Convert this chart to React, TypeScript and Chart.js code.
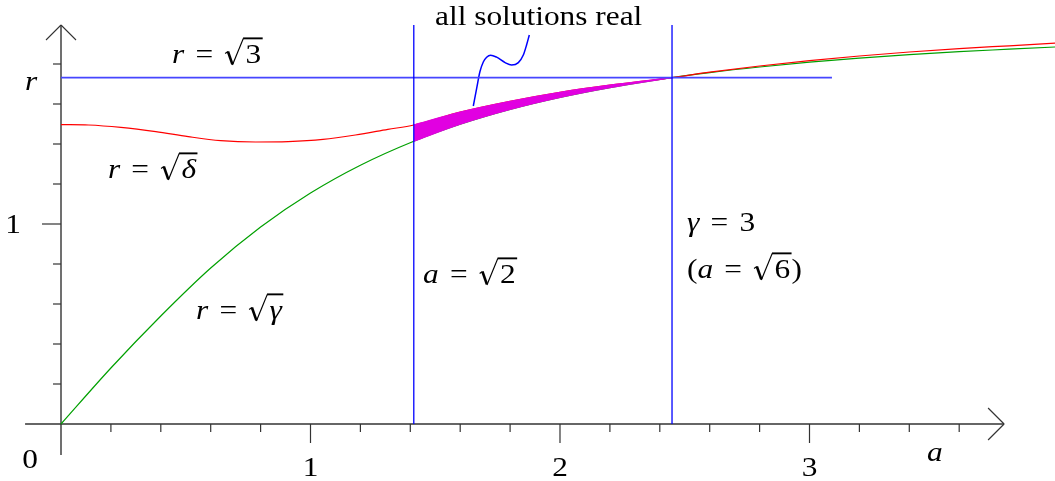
import React, { useEffect, useRef } from "react";
import { Chart, registerables } from "chart.js";

Chart.register(...registerables);

// ---------- data ----------
// red curve  r = sqrt(delta)
const redA = [0, 0.11, 0.24, 0.38, 0.51, 0.64, 0.78, 0.91, 1.05, 1.18, 1.31, 1.414, 1.6, 1.8, 2.0, 2.2, 2.449, 2.6, 2.8, 3.0, 3.2, 3.4, 3.6, 3.8, 4.0];
const redR = [1.497, 1.495, 1.483, 1.462, 1.437, 1.417, 1.41, 1.412, 1.423, 1.445, 1.473, 1.495, 1.559, 1.613, 1.658, 1.694, 1.732, 1.759, 1.79, 1.817, 1.84, 1.86, 1.877, 1.891, 1.905];
// green curve  r = sqrt(gamma)
const greenA = [0, 0.2, 0.4, 0.6, 0.8, 1.0, 1.2, 1.414, 1.6, 1.8, 2.0, 2.2, 2.449, 2.6, 2.8, 3.0, 3.2, 3.4, 3.6, 3.8, 4.0];
const greenR = [0, 0.28, 0.54, 0.78, 0.985, 1.155, 1.294, 1.414, 1.499, 1.573, 1.633, 1.682, 1.732, 1.757, 1.785, 1.809, 1.829, 1.847, 1.862, 1.874, 1.886];
// little cubic-shaped squiggle under "all solutions real"
const squiggleA = [1.6525, 1.666, 1.679, 1.693, 1.706, 1.722, 1.746, 1.78, 1.806, 1.833, 1.853, 1.866, 1.877];
const squiggleR = [1.59, 1.678, 1.761, 1.811, 1.834, 1.844, 1.834, 1.807, 1.795, 1.807, 1.845, 1.895, 1.945];
// reference lines
const sqrt3LineA = [0, 3.09];
const sqrt3LineR = 1.732;
const verticalLinesA = [1.414, 2.449];
const verticalTopR = 1.995;
const shadeRange = [1.414, 2.449];
// axes
const xAxisRange = [-0.144, 3.78];
const yAxisRange = [-0.155, 1.995];
const xMinorTicks = [0.2, 0.4, 0.6, 0.8, 1.2, 1.4, 1.6, 1.8, 2.2, 2.4, 2.6, 2.8, 3.2, 3.4, 3.6];
const xMajorTicks = [1, 2, 3];
const xTickLabels = ["1", "2", "3"];
const yMinorTicks = [0.2, 0.4, 0.6, 0.8, 1.2, 1.4, 1.6, 1.8];
const yMajorTicks = [1];
const yTickLabels = ["1"];
// view window
const xView = [-0.2445, 3.984];
const yView = [-0.285, 2.12];

// ---------- styles ----------
const W = 1055;
const H = 481;
const FAMILY = '"Liberation Serif", "Times New Roman", serif';
const FS = 28;
const SX = 1.12; // horizontal widening of glyphs (TeX-like proportions)
const RED = "#ff0000";
const GREEN = "#00a000";
const BLUE = "#0000ff";
const HBLUE = "#4646ff";
const MAGENTA = "#e100e1";
const AXIS = "#333333";

const pts = (xs: number[], ys: number[]) => xs.map((x, i) => ({ x, y: ys[i] }));
const inRange = (xs: number[], ys: number[]) =>
  pts(xs, ys).filter((p) => p.x >= shadeRange[0] - 1e-9 && p.x <= shadeRange[1] + 1e-9);

type Part = { t: string; it?: boolean } | { sqrt: Part[] } | { sp: number };

const fontFor = (it: boolean | undefined, s: number) => `${it ? "italic " : ""}${s}px ${FAMILY}`;

const RAD_W = 0.76;

function measureParts(ctx: CanvasRenderingContext2D, parts: Part[], s: number): number {
  let w = 0;
  for (const p of parts) {
    if ("sqrt" in p) w += s * RAD_W + measureParts(ctx, p.sqrt, s) + s * 0.05;
    else if ("sp" in p) w += p.sp * s;
    else {
      ctx.font = fontFor(p.it, s);
      w += ctx.measureText(p.t).width * SX;
    }
  }
  return w;
}

function drawParts(ctx: CanvasRenderingContext2D, parts: Part[], x0: number, y: number, s: number): number {
  let x = x0;
  for (const p of parts) {
    if ("sqrt" in p) {
      const aw = measureParts(ctx, p.sqrt, s);
      const top = y - 0.88 * s;
      ctx.strokeStyle = "#000";
      ctx.lineCap = "butt";
      ctx.lineJoin = "miter";
      ctx.lineWidth = 1.1;
      ctx.beginPath();
      ctx.moveTo(x + 0.03 * s, y - 0.34 * s);
      ctx.lineTo(x + 0.13 * s, y - 0.41 * s);
      ctx.stroke();
      ctx.lineWidth = 2.6;
      ctx.beginPath();
      ctx.moveTo(x + 0.13 * s, y - 0.41 * s);
      ctx.lineTo(x + 0.29 * s, y + 0.05 * s);
      ctx.stroke();
      ctx.lineWidth = 1.2;
      ctx.beginPath();
      ctx.moveTo(x + 0.29 * s, y + 0.07 * s);
      ctx.lineTo(x + 0.68 * s, top);
      ctx.stroke();
      ctx.lineWidth = 1.9;
      ctx.beginPath();
      ctx.moveTo(x + 0.67 * s, top);
      ctx.lineTo(x + RAD_W * s + aw + 0.05 * s, top);
      ctx.stroke();
      x = drawParts(ctx, p.sqrt, x + RAD_W * s, y, s) + 0.05 * s;
    } else if ("sp" in p) {
      x += p.sp * s;
    } else {
      ctx.font = fontFor(p.it, s);
      ctx.fillStyle = "#000";
      ctx.textAlign = "left";
      ctx.textBaseline = "alphabetic";
      ctx.save();
      ctx.translate(x, y);
      ctx.scale(SX, 1);
      ctx.fillText(p.t, 0, 0);
      ctx.restore();
      x += ctx.measureText(p.t).width * SX;
    }
  }
  return x;
}

const EQ: Part[] = [{ sp: 0.4 }, { t: "=" }, { sp: 0.4 }];

const decorPlugin = {
  id: "decor",
  beforeDatasetsDraw(chart: any) {
    const ctx: CanvasRenderingContext2D = chart.ctx;
    const xs = chart.scales.x;
    const ys = chart.scales.y;
    const X = (v: number) => xs.getPixelForValue(v);
    const Y = (v: number) => ys.getPixelForValue(v);
    ctx.save();
    ctx.fillStyle = "#fff";
    ctx.fillRect(0, 0, chart.width, chart.height);
    ctx.strokeStyle = AXIS;
    ctx.lineWidth = 1.4;
    const seg = (x1: number, y1: number, x2: number, y2: number) => {
      ctx.beginPath();
      ctx.moveTo(x1, y1);
      ctx.lineTo(x2, y2);
      ctx.stroke();
    };
    const x0 = X(0);
    const y0 = Y(0);
    // axes
    seg(X(xAxisRange[0]), y0, X(xAxisRange[1]), y0);
    seg(x0, Y(yAxisRange[0]), x0, Y(yAxisRange[1]));
    // arrows
    ctx.lineWidth = 1.1;
    const xt = X(xAxisRange[1]);
    seg(xt - 16, y0 - 16, xt, y0);
    seg(xt - 16, y0 + 16, xt, y0);
    const yt = Y(yAxisRange[1]);
    seg(x0 - 15, yt + 15, x0, yt);
    seg(x0 + 15, yt + 15, x0, yt);
    // ticks
    ctx.lineWidth = 1.2;
    for (const v of xMinorTicks) seg(X(v), y0, X(v), y0 + 8);
    for (const v of xMajorTicks) seg(X(v), y0, X(v), y0 + 19);
    for (const v of yMinorTicks) seg(x0 - 8, Y(v), x0, Y(v));
    for (const v of yMajorTicks) seg(x0 - 19, Y(v), x0, Y(v));
    ctx.restore();
  },
  afterDatasetsDraw(chart: any) {
    const ctx: CanvasRenderingContext2D = chart.ctx;
    const xs = chart.scales.x;
    const ys = chart.scales.y;
    const X = (v: number) => xs.getPixelForValue(v);
    const Y = (v: number) => ys.getPixelForValue(v);
    ctx.save();
    const centered = (txt: string, cx: number, by: number) => {
      const w = measureParts(ctx, [{ t: txt }], FS);
      drawParts(ctx, [{ t: txt }], cx - w / 2, by, FS);
    };
    // tick labels
    xTickLabels.forEach((t, i) => centered(t, X(xMajorTicks[i]), Y(-0.262)));
    yTickLabels.forEach((t, i) => centered(t, X(-0.192), Y(yMajorTicks[i] - 0.045)));
    centered("0", X(-0.124), Y(-0.22));
    // axis names
    drawParts(ctx, [{ t: "a", it: true }], X(3.471), Y(-0.185), FS);
    drawParts(ctx, [{ t: "r", it: true }], X(-0.144), Y(1.67), FS);
    // annotations
    drawParts(ctx, [{ t: "all solutions real" }], X(1.499), Y(1.995), FS);
    drawParts(ctx, [{ t: "r", it: true }, ...EQ, { sqrt: [{ t: "3" }] }], X(0.445), Y(1.805), FS);
    drawParts(ctx, [{ t: "r", it: true }, ...EQ, { sqrt: [{ t: "δ", it: true }] }], X(0.188), Y(1.23), FS);
    drawParts(ctx, [{ t: "r", it: true }, ...EQ, { sqrt: [{ t: "γ", it: true }] }], X(0.541), Y(0.525), FS);
    drawParts(ctx, [{ t: "a", it: true }, ...EQ, { sqrt: [{ t: "2" }] }], X(1.451), Y(0.705), FS);
    drawParts(ctx, [{ t: "γ", it: true }, ...EQ, { t: "3" }], X(2.509), Y(0.965), FS);
    drawParts(
      ctx,
      [{ t: "(" }, { t: "a", it: true }, ...EQ, { sqrt: [{ t: "6" }] }, { t: ")" }],
      X(2.509),
      Y(0.73),
      FS
    );
    ctx.restore();
  },
};

export default function App() {
  const ref = useRef<HTMLCanvasElement>(null);
  useEffect(() => {
    if (!ref.current) return;
    const line = (data: { x: number; y: number }[], color: string, width: number, smooth: boolean) => ({
      data,
      borderColor: color,
      borderWidth: width,
      pointRadius: 0,
      fill: false,
      tension: 0,
      cubicInterpolationMode: smooth ? "monotone" : "default",
    });
    const chart = new Chart(ref.current, {
      type: "line",
      data: {
        datasets: [
          line([{ x: verticalLinesA[0], y: 0 }, { x: verticalLinesA[0], y: verticalTopR }], BLUE, 1.3, false),
          line([{ x: verticalLinesA[1], y: 0 }, { x: verticalLinesA[1], y: verticalTopR }], BLUE, 1.3, false),
          line(sqrt3LineA.map((x) => ({ x, y: sqrt3LineR })), HBLUE, 1.7, false),
          {
            data: inRange(redA, redR),
            borderWidth: 1.2,
            borderColor: MAGENTA,
            backgroundColor: MAGENTA,
            pointRadius: 0,
            fill: "+1",
            cubicInterpolationMode: "monotone",
          },
          {
            data: inRange(greenA, greenR),
            borderWidth: 1.2,
            borderColor: MAGENTA,
            pointRadius: 0,
            fill: false,
            cubicInterpolationMode: "monotone",
          },
          line(pts(squiggleA, squiggleR), BLUE, 1.5, true),
          line(pts(redA, redR), RED, 1.2, true),
          line(pts(greenA, greenR), GREEN, 1.2, true),
        ] as any,
      },
      options: {
        animation: false,
        responsive: false,
        devicePixelRatio: 1,
        layout: { padding: 0 },
        events: [],
        plugins: { legend: { display: false }, tooltip: { enabled: false }, title: { display: false } },
        scales: {
          x: { type: "linear", min: xView[0], max: xView[1], display: false },
          y: { type: "linear", min: yView[0], max: yView[1], display: false },
        },
      },
      plugins: [decorPlugin],
    });
    return () => chart.destroy();
  }, []);
  return (
    <div style={{ position: "fixed", left: 0, top: 0, width: W, height: H, background: "#fff" }}>
      <canvas ref={ref} width={W} height={H} style={{ width: W, height: H, display: "block" }} />
    </div>
  );
}
